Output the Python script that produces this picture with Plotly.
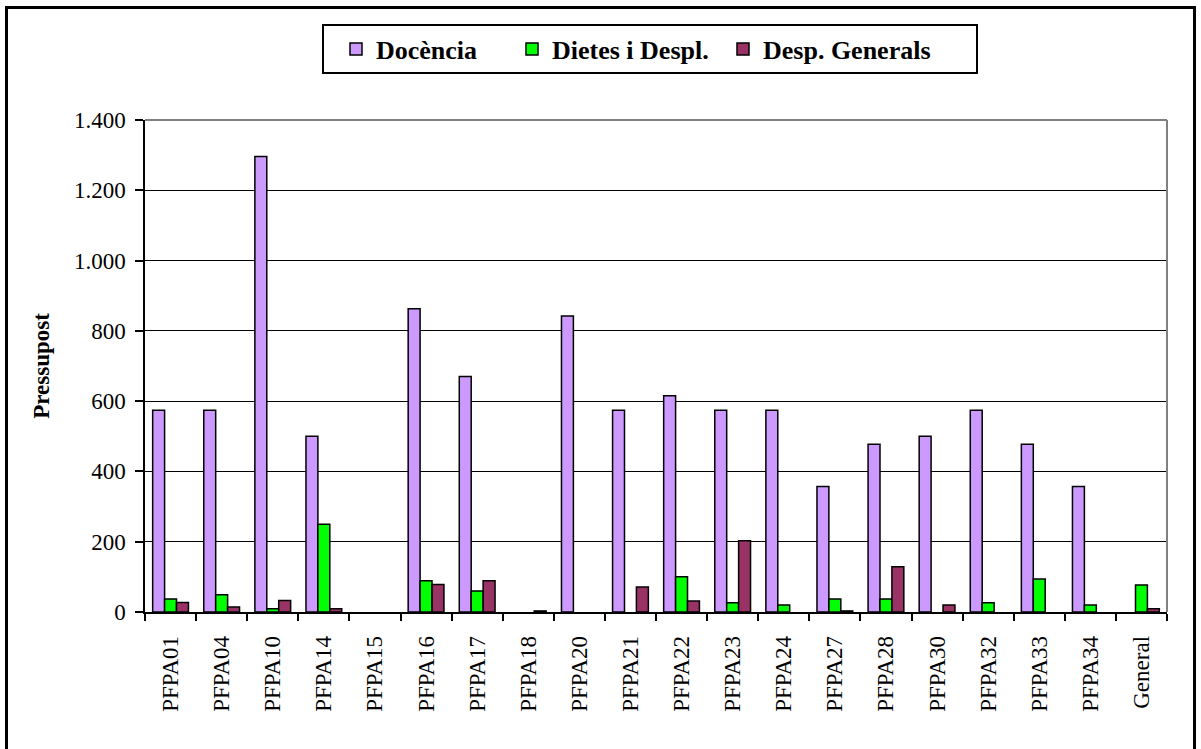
"""Budget per centre: grouped bar chart (Docència / Dietes / Desp. Generals)."""

import plotly.graph_objects as go

centres = [
    "PFPA01", "PFPA04", "PFPA10", "PFPA14", "PFPA15", "PFPA16", "PFPA17",
    "PFPA18", "PFPA20", "PFPA21", "PFPA22", "PFPA23", "PFPA24", "PFPA27",
    "PFPA28", "PFPA30", "PFPA32", "PFPA33", "PFPA34", "General",
]
docencia = [574, 574, 1296, 500, 0, 863, 670, 0, 842, 574,
            615, 574, 574, 357, 477, 500, 574, 477, 357, 0]
dietes = [37, 49, 9, 250, 0, 89, 60, 0, 0, 0,
          100, 26, 20, 37, 37, 0, 26, 94, 20, 77]
desp_generals = [27, 14, 33, 9, 0, 78, 89, 3, 0, 71,
                 31, 203, 0, 3, 129, 20, 0, 0, 0, 9]

series = [
    ("Docència", docencia, "#CC99FF", "legend"),
    ("Dietes i Despl.", dietes, "#00FF00", "legend2"),
    ("Desp. Generals", desp_generals, "#993366", "legend3"),
]

W, H = 1201, 749
L, R, T, B = 145, 34, 120, 137
SERIF = "Liberation Serif, Times New Roman, serif"


def px_x(px):
    return (px - L) / (W - L - R)


def px_y(py):
    return (H - B - py) / (H - T - B)


def legend_at(px):
    # one legend per series so each entry sits where Excel put it
    return dict(
        orientation="h",
        x=px_x(px),
        y=px_y(49),
        xanchor="left",
        yanchor="middle",
        bgcolor="rgba(0,0,0,0)",
        borderwidth=0,
        font=dict(family=SERIF, size=26, color="black", weight="bold"),
    )


fig = go.Figure()
for name, values, color, leg in series:
    fig.add_trace(
        go.Bar(
            x=centres,
            # empty cells: no bar at all (Excel draws nothing for them)
            y=[v if v else None for v in values],
            name=name,
            legend=leg,
            showlegend=True,
            marker=dict(color=color, line=dict(color="black", width=1.5)),
        )
    )

fig.update_layout(
    width=W,
    height=H,
    margin=dict(l=L, r=R, t=T, b=B, autoexpand=False),
    showlegend=True,
    barmode="group",
    bargap=0.3,
    bargroupgap=0,
    separators=",.",
    paper_bgcolor="white",
    plot_bgcolor="white",
    font=dict(family=SERIF, size=23, color="black"),
    legend=legend_at(336),
    legend2=legend_at(512),
    legend3=legend_at(723),
    xaxis=dict(
        type="category",
        tickangle=-90,
        tickson="boundaries",
        ticks="outside",
        ticklen=7,
        tickwidth=1.5,
        tickcolor="black",
        showline=True,
        linecolor="black",
        linewidth=1.5,
        showgrid=False,
        ticklabelstandoff=13,
        tickfont=dict(family=SERIF, size=23),
    ),
    yaxis=dict(
        range=[0, 1400],
        dtick=200,
        tickformat=",d",
        ticks="outside",
        ticklen=8,
        tickwidth=1.5,
        tickcolor="black",
        showline=True,
        linecolor="black",
        linewidth=1.5,
        showgrid=True,
        gridcolor="black",
        gridwidth=1,
        zeroline=False,
        ticklabelstandoff=5,
        tickfont=dict(family=SERIF, size=23),
        title=dict(
            text="Pressupost",
            font=dict(family=SERIF, size=23, weight="bold"),
            standoff=18,
        ),
    ),
    shapes=[
        # grey frame on the top and right of the plot area
        dict(type="line", xref="paper", yref="paper", x0=0, x1=1, y0=1, y1=1,
             line=dict(color="#808080", width=2), layer="above"),
        dict(type="line", xref="paper", yref="paper", x0=1, x1=1, y0=0, y1=1,
             line=dict(color="#808080", width=2), layer="above"),
        # legend box
        dict(type="rect", xref="paper", yref="paper",
             x0=px_x(323), x1=px_x(977), y0=px_y(73), y1=px_y(25),
             line=dict(color="black", width=2), layer="below"),
        # outer chart border
        dict(type="rect", xref="paper", yref="paper",
             x0=px_x(6.5), x1=px_x(1194.5), y0=px_y(770), y1=px_y(7.5),
             line=dict(color="black", width=3), layer="below"),
    ],
)

fig.write_html(
    "out.html",
    config={"displayModeBar": False},
    post_script="document.body.style.margin='0';",
)
